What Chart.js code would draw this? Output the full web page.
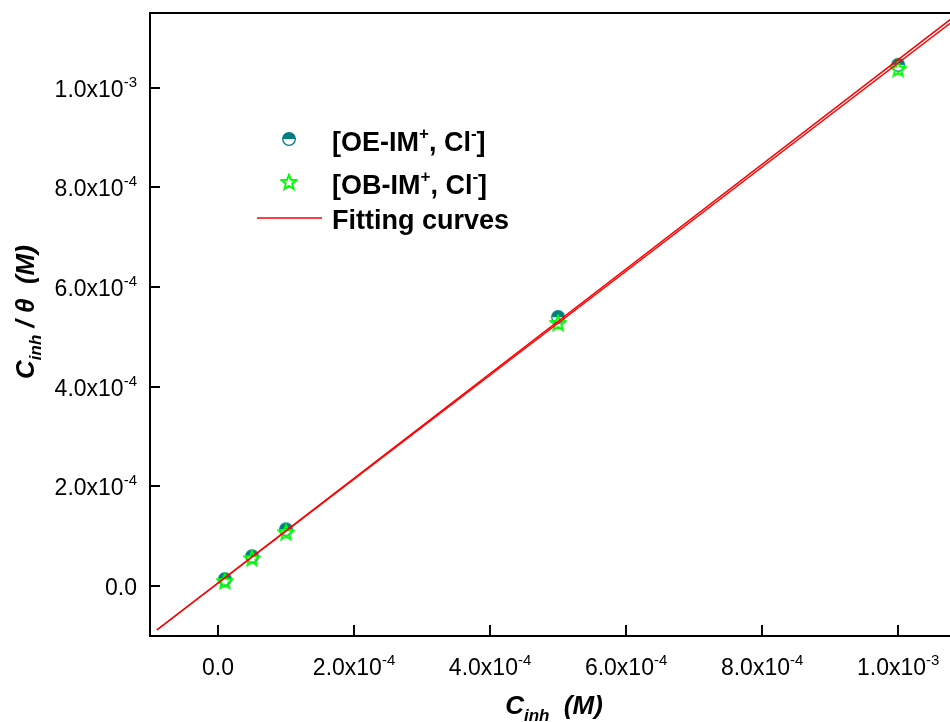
<!DOCTYPE html>
<html>
<head>
<meta charset="utf-8">
<script src="https://cdn.jsdelivr.net/npm/chart.js@4/dist/chart.umd.min.js"></script>
<style>
  html, body { margin: 0; padding: 0; background: #fff; }
  canvas { display: block; }
</style>
</head>
<body>
<canvas id="langmuirChart" width="950" height="722"></canvas>
<script>
// values
const concentrations = [1e-5, 5e-5, 1e-4, 5e-4, 1e-3];
const oeValues = [1.4e-5, 6.0e-5, 1.14e-4, 5.40e-4, 1.046e-3];
const obValues = [1.0e-5, 5.6e-5, 1.08e-4, 5.28e-4, 1.038e-3];
const fitX = [-0.9e-4, 1.1e-3];
const fitOE = [-0.88e-4, 1.1615e-3];
const fitOB = [-0.88e-4, 1.154e-3];
const xTickValues = [0, 2e-4, 4e-4, 6e-4, 8e-4, 1e-3];
const xTickLabels = ['0.0', '2.0x10^-4', '4.0x10^-4', '6.0x10^-4', '8.0x10^-4', '1.0x10^-3'];
const yTickValues = [0, 2e-4, 4e-4, 6e-4, 8e-4, 1e-3];
const yTickLabels = ['0.0', '2.0x10^-4', '4.0x10^-4', '6.0x10^-4', '8.0x10^-4', '1.0x10^-3'];

const TEAL = '#007f80';
const GREEN = '#00ff00';
const RED = '#ff0000';
const FONT = '"Liberation Sans", Arial, sans-serif';

function halfCircle() {
  const c = document.createElement('canvas');
  c.width = c.height = 16;
  const g = c.getContext('2d');
  g.beginPath(); g.arc(8, 8, 6.3, 0, 2 * Math.PI); g.fillStyle = '#fff'; g.fill();
  g.beginPath(); g.arc(8, 8, 6.3, Math.PI, 2 * Math.PI); g.closePath(); g.fillStyle = TEAL; g.fill();
  g.beginPath(); g.arc(8, 8, 6.3, 0, 2 * Math.PI); g.strokeStyle = TEAL; g.lineWidth = 1.3; g.stroke();
  return c;
}

function starIcon() {
  const c = document.createElement('canvas');
  c.width = c.height = 18;
  const g = c.getContext('2d');
  g.beginPath();
  for (let i = 0; i < 10; i++) {
    const r = i % 2 ? 3.4 : 7.8;
    const a = -Math.PI / 2 + i * Math.PI / 5;
    const px = 9 + r * Math.cos(a), py = 9.6 + r * Math.sin(a);
    i ? g.lineTo(px, py) : g.moveTo(px, py);
  }
  g.closePath();
  g.strokeStyle = GREEN; g.lineWidth = 2; g.stroke();
  return c;
}

const oeMarker = halfCircle();
const obMarker = starIcon();

// draws text pieces one after another: {t, font, dy}
function drawParts(ctx, parts, x, y, align) {
  let w = 0;
  parts.forEach(p => { ctx.font = p.font; p.w = ctx.measureText(p.t).width; w += p.w; });
  let cx = align === 'right' ? x - w : align === 'center' ? x - w / 2 : x;
  ctx.textAlign = 'left';
  ctx.textBaseline = 'alphabetic';
  parts.forEach(p => { ctx.font = p.font; ctx.fillText(p.t, cx, y + (p.dy || 0)); cx += p.w; });
}

function sciParts(label) {
  const [main, exp] = label.split('^');
  const parts = [{ t: main, font: '23px ' + FONT }];
  if (exp) parts.push({ t: exp, font: '15px ' + FONT, dy: -10 });
  return parts;
}

const decorations = {
  id: 'decorations',
  afterDraw(chart) {
    const ctx = chart.ctx;
    const { left, top, right, bottom } = chart.chartArea;
    const xs = chart.scales.x, ys = chart.scales.y;
    ctx.save();
    ctx.strokeStyle = '#000';
    ctx.lineWidth = 2;
    ctx.beginPath();
    // frame runs past the right edge of the picture
    ctx.moveTo(left - 1, top); ctx.lineTo(chart.width, top);
    ctx.moveTo(right - 2, bottom); ctx.lineTo(chart.width, bottom);
    xTickValues.forEach(v => {
      const px = Math.round(xs.getPixelForValue(v));
      ctx.moveTo(px, bottom); ctx.lineTo(px, bottom - 11);
    });
    yTickValues.forEach(v => {
      const py = Math.round(ys.getPixelForValue(v));
      ctx.moveTo(left, py); ctx.lineTo(left + 10, py);
    });
    ctx.stroke();

    ctx.fillStyle = '#000';
    xTickValues.forEach((v, i) => drawParts(ctx, sciParts(xTickLabels[i]), xs.getPixelForValue(v), 675, 'center'));
    yTickValues.forEach((v, i) => drawParts(ctx, sciParts(yTickLabels[i]), 137, ys.getPixelForValue(v) + 9, 'right'));

    // axis titles
    const big = 'italic bold 26px ' + FONT, sub = 'italic bold 17px ' + FONT;
    drawParts(ctx, [{ t: 'C', font: big }, { t: 'inh', font: sub, dy: 7 }, { t: '  (M)', font: big }], 554, 714, 'center');
    ctx.save();
    ctx.translate(34, 312);
    ctx.rotate(-Math.PI / 2);
    drawParts(ctx, [{ t: 'C', font: big }, { t: 'inh', font: sub, dy: 7 }, { t: ' / θ  (M)', font: big }], 0, 0, 'center');
    ctx.restore();

    // legend
    const lf = 'bold 27px ' + FONT, ls = 'bold 17px ' + FONT;
    ctx.drawImage(oeMarker, 289 - 8, 139 - 8);
    drawParts(ctx, [{ t: '[OE-IM', font: lf }, { t: '+', font: ls, dy: -12 }, { t: ', Cl', font: lf }, { t: '-', font: ls, dy: -12 }, { t: ']', font: lf }], 332, 151, 'left');
    ctx.drawImage(obMarker, 289 - 9, 182 - 9);
    drawParts(ctx, [{ t: '[OB-IM', font: lf }, { t: '+', font: ls, dy: -12 }, { t: ', Cl', font: lf }, { t: '-', font: ls, dy: -12 }, { t: ']', font: lf }], 332, 194, 'left');
    ctx.strokeStyle = RED; ctx.lineWidth = 1.5;
    ctx.beginPath(); ctx.moveTo(257, 218); ctx.lineTo(322, 218); ctx.stroke();
    drawParts(ctx, [{ t: 'Fitting curves', font: lf }], 332, 229, 'left');
    ctx.restore();
  }
};

const toPoints = (xs, ys) => xs.map((x, i) => ({ x, y: ys[i] }));

new Chart(document.getElementById('langmuirChart'), {
  type: 'scatter',
  data: {
    datasets: [
      { type: 'line', data: toPoints(fitX, fitOE), borderColor: RED, borderWidth: 1.5, pointRadius: 0, fill: false, clip: false },
      { type: 'line', data: toPoints(fitX, fitOB), borderColor: RED, borderWidth: 1.5, pointRadius: 0, fill: false, clip: false },
      { data: toPoints(concentrations, obValues), pointStyle: obMarker, pointRadius: 8 },
      { data: toPoints(concentrations, oeValues), pointStyle: oeMarker, pointRadius: 8 },
    ]
  },
  options: {
    responsive: false, animation: false,
    layout: { padding: { left: 150, top: 13, right: 0, bottom: 86 } },
    plugins: { legend: { display: false }, tooltip: { enabled: false } },
    scales: {
      x: {
        type: 'linear', min: -1e-4, max: 1.063e-3,
        afterBuildTicks: s => { s.ticks = xTickValues.map(v => ({ value: v })); },
        ticks: { display: false },
        grid: { display: false, drawTicks: false },
        border: { display: true, color: '#000', width: 2 }
      },
      y: {
        type: 'linear', min: -1e-4, max: 1.15e-3,
        afterBuildTicks: s => { s.ticks = yTickValues.map(v => ({ value: v })); },
        ticks: { display: false },
        grid: { display: false, drawTicks: false },
        border: { display: true, color: '#000', width: 2 }
      }
    }
  },
  plugins: [decorations]
});
</script>
</body>
</html>
